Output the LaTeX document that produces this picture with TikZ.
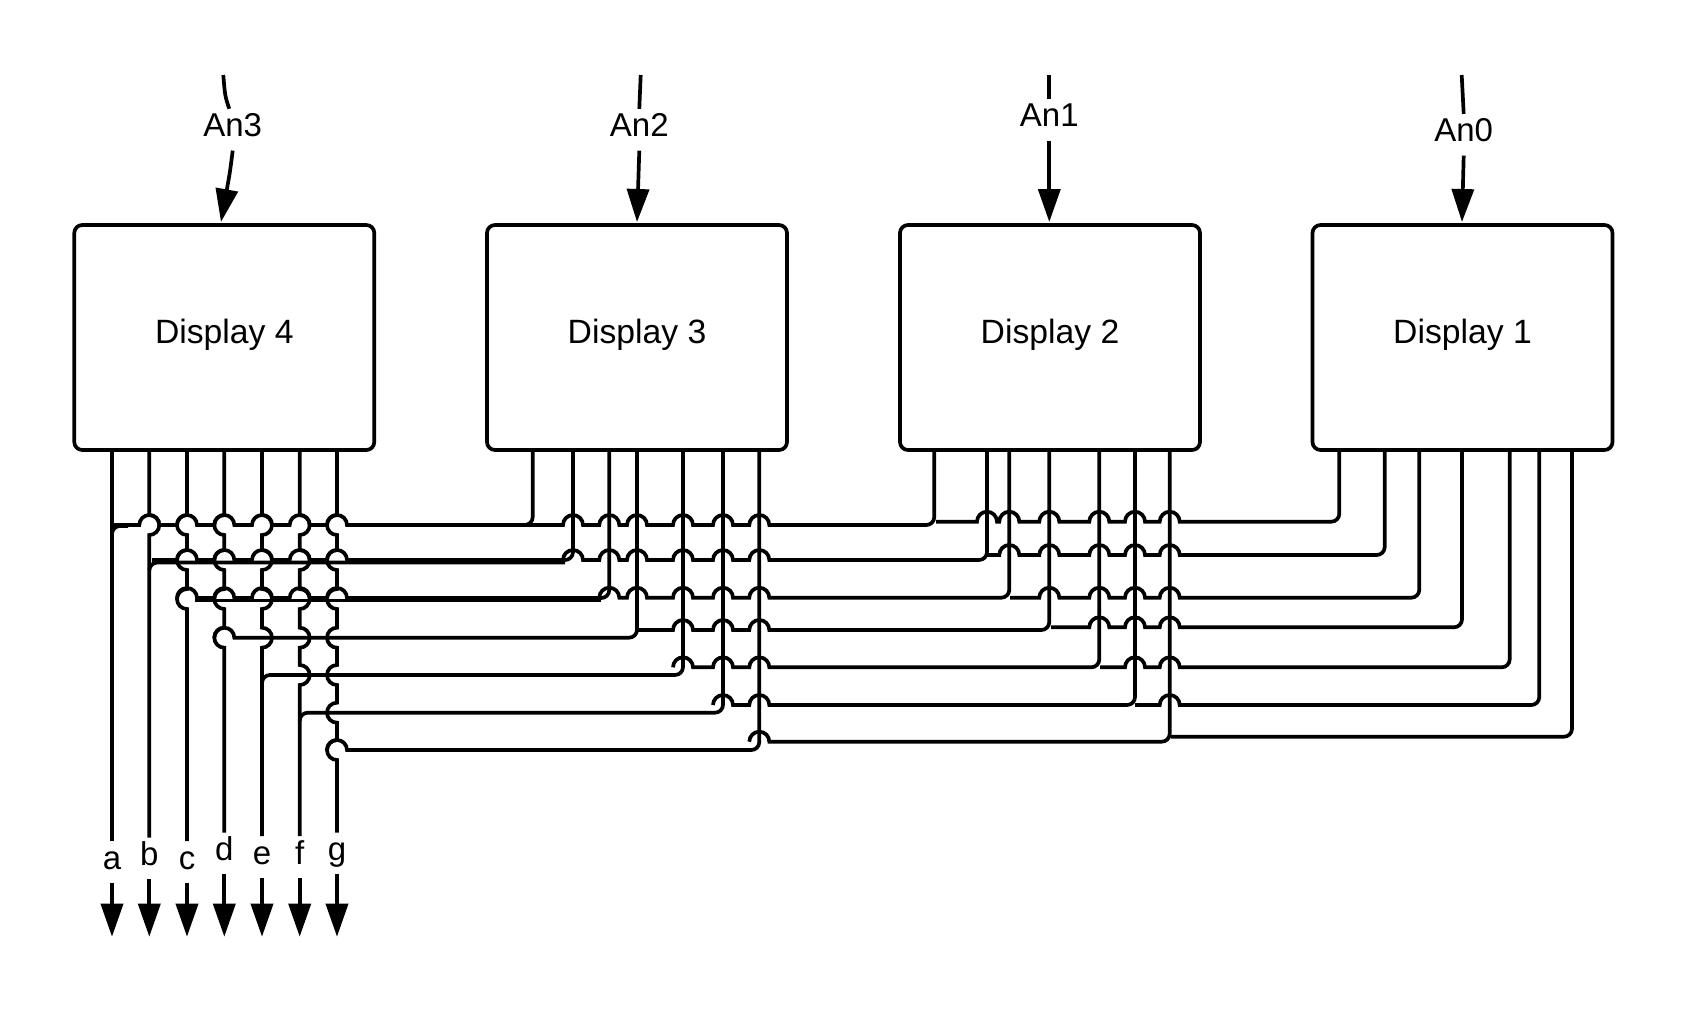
\documentclass[tikz,border=0pt]{standalone}
\usepackage{fontspec}
\setmainfont{Liberation Sans}
\usetikzlibrary{arrows.meta}
\tikzset{
    wire/.style={line width=1.85pt},
    feed/.style={wire,-{Triangle[length=16.5pt,width=11pt]}},
    dispbox/.style={draw,line width=1.85pt,rounded corners=4pt,minimum width=150pt,minimum height=112.5pt,
        font=\fontsize{16.85}{20}\selectfont,text height=12pt,text depth=6.2pt},
    pinlabel/.style={inner sep=0pt,font=\fontsize{16.5}{20}\selectfont,text height=13.75pt,text depth=6.75pt}
}
% lead from a pin, round the corner, then leftwards with a hop over every crossing
\newcommand{\busline}[4]{
    \draw[wire] (#1) -- (#1 |- 0,#2-8) arc[start angle=0,end angle=-90,radius=4pt]
        \foreach \cx in {#4} { -- (\cx+10,#2) arc[start angle=0,end angle=180,radius=5pt]} -- (#3,#2);
}
% pin to label, with bumps given as row/turn
\newcommand{\dropline}[3]{
    \draw[wire] (#1) \foreach \rw/\tn in {#2} { -- (#1 |- 0,\rw-10) arc[start angle=90,delta angle=\tn,radius=5pt]} -- (#3);
}
\begin{document}
\begin{tikzpicture}[x=0.5pt,y=-0.5pt]
    \useasboundingbox (0,0) rectangle (1688,1013);

    \node[dispbox] (disp4) at (224.3,337.5) {Display 4};
    \node[dispbox] (disp3) at (637,337.5) {Display 3};
    \node[dispbox] (disp2) at (1050,337.5) {Display 2};
    \node[dispbox] (disp1) at (1462.5,337.5) {Display 1};

    % pins
    \foreach \n/\x in {a/112,b/149.3,c/187,d/224.3,e/262,f/299.7,g/337} \coordinate (p4\n) at (\x,450);
    \foreach \n/\x in {a/532.7,b/573,c/609.3,d/637,e/683,f/723,g/759.3} \coordinate (p3\n) at (\x,450);
    \foreach \n/\x in {a/934.3,b/987,c/1009.3,d/1049.3,e/1099.3,f/1135,g/1169.7} \coordinate (p2\n) at (\x,450);
    \foreach \n/\x in {a/1339.3,b/1384.7,c/1419.3,d/1462,e/1509.7,f/1539.3,g/1572} \coordinate (p1\n) at (\x,450);

    % anode inputs
    \node[pinlabel] (an3) at (232.7,129.7) {An3};
    \node[pinlabel] (an2) at (639.3,129.7) {An2};
    \node[pinlabel] (an1) at (1049.3,119.8) {An1};
    \node[pinlabel] (an0) at (1463.7,134.7) {An0};
    \coordinate (in3) at (223.3,75);
    \coordinate (in2) at (640.7,75);
    \coordinate (in1) at (1049.3,75);
    \coordinate (in0) at (1461.7,75);
    \coordinate (tip3) at (221,222);
    \coordinate (tip2) at (637,222);
    \coordinate (tip1) at (1049.3,222);
    \coordinate (tip0) at (1462,222);
    \draw[wire] (in3) .. controls (225,96) .. ([xshift=-1.7pt]an3.north);
    \draw[feed] (an3.south) .. controls (230,172) .. (tip3);
    \foreach \k in {2,1,0} {
        \draw[wire] (in\k) -- (an\k.north);
        \draw[feed] (an\k.south) -- (tip\k);
    }

    % segment outputs
    \foreach \n/\x/\y in {a/112/862,b/149.3/858.5,c/187/862,d/224.3/853.5,e/262/857,f/299.7/857,g/337/853.5} {
        \node[pinlabel] (l\n) at (\x,\y) {\n};
        \coordinate (out\n) at (\x,936.7);
        \draw[feed] (l\n.south) -- (out\n);
    }
    \dropline{p4a}{}{la.north}
    \dropline{p4b}{525/-180}{lb.north}
    \dropline{p4c}{525/180,560/180,599/180}{lc.north}
    \dropline{p4d}{525/180,560/180,599/180,637.7/180}{ld.north}
    \dropline{p4e}{525/-180,560/-180,599/-180,637.7/-180}{le.north}
    \dropline{p4f}{525/-180,560/-180,599/-180,637.7/-180,675/-180}{lf.north}
    \dropline{p4g}{525/180,560/180,599/180,637.7/180,675/180,712.7/180,750/180}{lg.north}

    % display 1 to display 2
    \busline{p1a}{521.7}{936}{1169.7,1135,1099.3,1049.3,1009.3,987}
    \busline{p1b}{555}{987}{1169.7,1135,1099.3,1049.3,1009.3}
    \busline{p1c}{597.7}{1010}{1169.7,1135,1099.3,1049.3}
    \busline{p1d}{627.3}{1051}{1169.7,1135,1099.3}
    \busline{p1e}{667.3}{1100}{1169.7,1135}
    \busline{p1f}{705}{1135}{1169.7}
    \draw[wire] (p1g) -- (p1g |- 0,728.7) arc[start angle=0,end angle=-90,radius=4pt] -- (1171,736.7);

    % display 2 to display 3
    \busline{p2a}{525}{524.7}{759.3,723,683,637,609.3,573}
    \busline{p2b}{560}{563}{759.3,723,683,637,609.3,573}
    \busline{p2c}{597.7}{599.3}{759.3,723,683,637,609.3}
    \busline{p2d}{630}{637}{759.3,723,683}
    \busline{p2e}{667.3}{673}{759.3,723,683}
    \busline{p2f}{705}{713}{759.3,723}
    \busline{p2g}{741.7}{749.3}{759.3}

    % display 3 to display 4
    \busline{p3a}{525}{112}{337,299.7,262,224.3,187,149.3}
    \draw[wire] (p4a |- 0,534) arc[start angle=180,end angle=90,radius=4pt] -- (128,526);
    \busline{p3b}{560}{152}{337,299.7,262,224.3,187}
    \draw[wire] (565,562.5) -- (157.3,562.5) arc[start angle=90,end angle=180,radius=4pt];
    \busline{p3c}{598}{177}{337,299.7,262,224.3,187}
    \draw[wire] (601,600.5) -- (195,600.5);
    \busline{p3d}{637.7}{214.3}{224.3}
    \draw[wire] (p3e) -- (p3e |- 0,667) arc[start angle=0,end angle=-90,radius=4pt]
        -- (270,675) arc[start angle=90,end angle=180,radius=4pt];
    \draw[wire] (p3f) -- (p3f |- 0,704.7) arc[start angle=0,end angle=-90,radius=4pt]
        -- (307.7,712.7) arc[start angle=90,end angle=180,radius=4pt];
    \busline{p3g}{750}{327}{337}
\end{tikzpicture}
\end{document}
